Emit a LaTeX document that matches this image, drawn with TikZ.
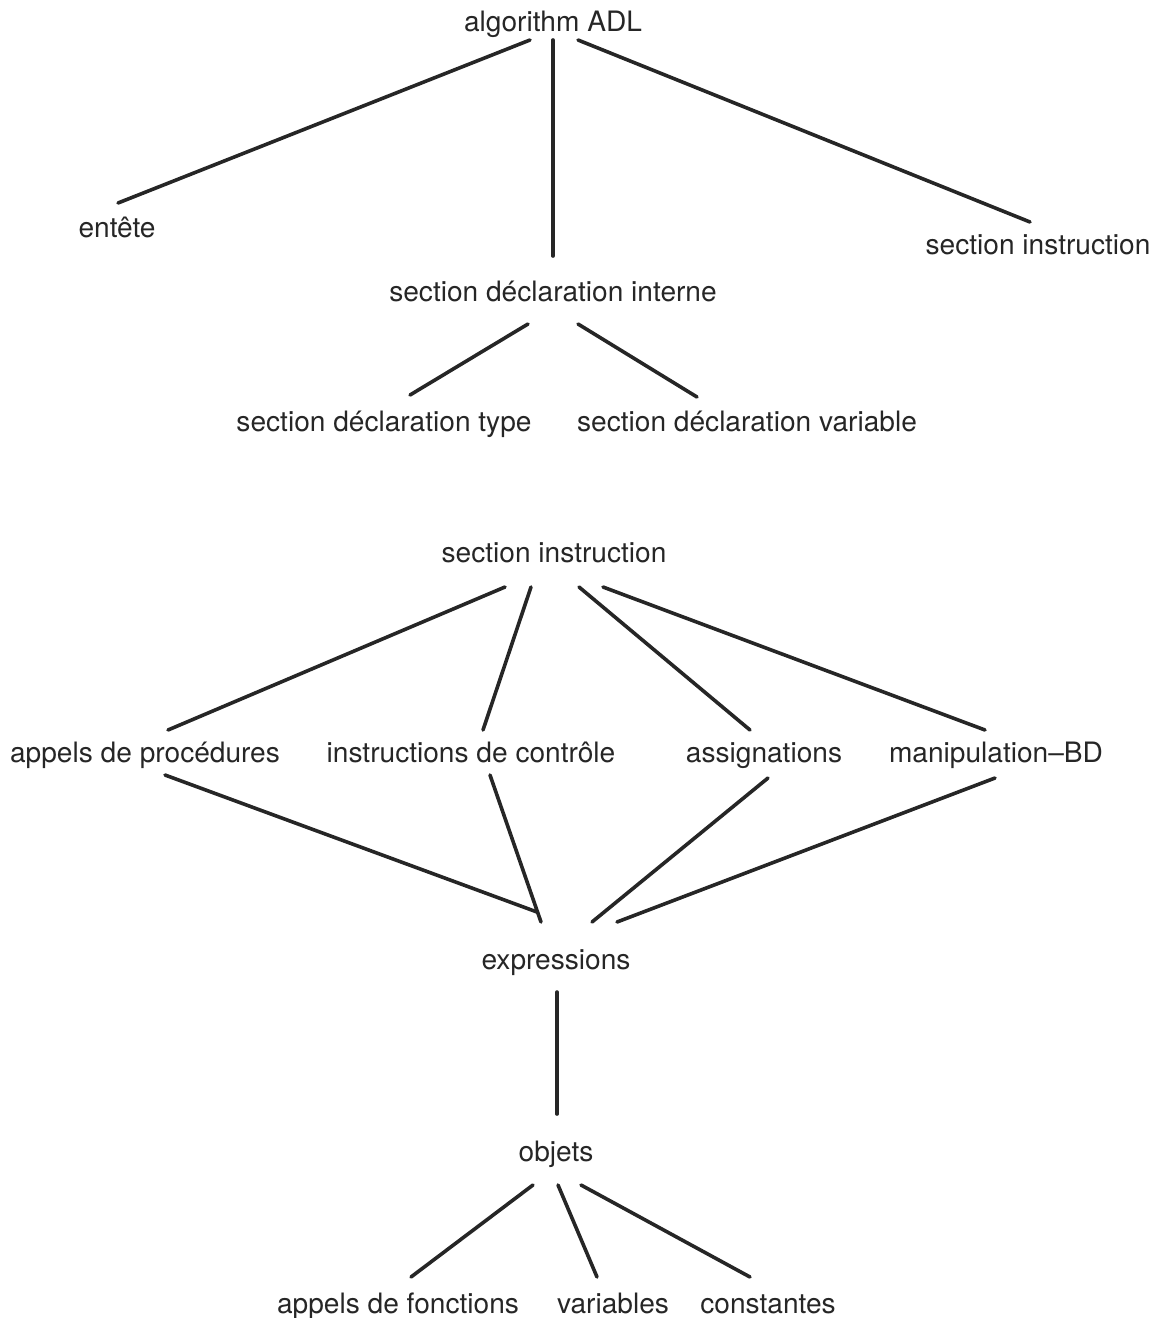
\documentclass[tikz,border=0pt]{standalone}
\usepackage{fontspec}
\setmainfont{TeX Gyre Heros}
\usetikzlibrary{calc}
\tikzset{
  lbl/.style={inner sep=0pt, text height=24pt, text depth=6pt, font=\fontsize{28.1}{33}\selectfont, text=black!85},
  edge/.style={line width=3.6pt, draw=black!85, line cap=round}
}
\begin{document}
\begin{tikzpicture}[x=1pt,y=-1pt]
\useasboundingbox (0,0) rectangle (1163,1318);
\node[lbl] (adl) at (553,22) {algorithm ADL};
\node[lbl] (entete) at (117,228) {entête};
\node[lbl] (si) at (1038,245) {section instruction};
\node[lbl] (sdi) at (553,292) {section déclaration interne};
\node[lbl] (sdt) at (384,422) {section déclaration type};
\node[lbl] (sdv) at (747,422) {section déclaration variable};
\node[lbl] (si2) at (554,553) {section instruction};
\node[lbl] (app) at (145,753) {appels de procédures};
\node[lbl] (ictl) at (471,753) {instructions de contrôle};
\node[lbl] (asg) at (764,753) {assignations};
\node[lbl] (mbd) at (996,753) {manipulation–BD};
\node[lbl] (expr) at (556,960) {expressions};
\node[lbl] (obj) at (556,1152) {objets};
\node[lbl] (fct) at (398,1304) {appels de fonctions};
\node[lbl] (var) at (613,1304) {variables};
\node[lbl] (cst) at (768,1304) {constantes};

\draw[edge] ($(adl)+(-23,18)$) -- ($(entete)+(1,-25)$);
\draw[edge] ($(adl)+(0,18)$) -- ($(sdi)+(0,-36)$);
\draw[edge] ($(adl)+(25,18)$) -- ($(si)+(-8,-23)$);
\draw[edge] ($(sdi)+(-25,32)$) -- ($(sdt)+(26,-27)$);
\draw[edge] ($(sdi)+(25,32)$) -- ($(sdv)+(-50,-25)$);
\draw[edge] ($(si2)+(-49,34)$) -- ($(app)+(23,-23)$);
\draw[edge] ($(si2)+(-23,34)$) -- ($(ictl)+(12,-23)$);
\draw[edge] ($(si2)+(25,34)$) -- ($(asg)+(-14,-23)$);
\draw[edge] ($(si2)+(49,34)$) -- ($(mbd)+(-11,-23)$);
\draw[edge] ($(app)+(20,22)$) -- ($(expr)+(-19,-48)$);
\draw[edge] ($(ictl)+(19,22)$) -- ($(expr)+(-15,-38)$);
\draw[edge] ($(asg)+(4,25)$) -- ($(expr)+(36,-38)$);
\draw[edge] ($(mbd)+(-1,25)$) -- ($(expr)+(61,-38)$);
\draw[edge] ($(expr)+(1,32)$) -- ($(obj)+(1,-38)$);
\draw[edge] ($(obj)+(-23,33)$) -- ($(fct)+(13,-27)$);
\draw[edge] ($(obj)+(2,33)$) -- ($(var)+(-16,-27)$);
\draw[edge] ($(obj)+(25,33)$) -- ($(cst)+(-18,-27)$);
\end{tikzpicture}
\end{document}
